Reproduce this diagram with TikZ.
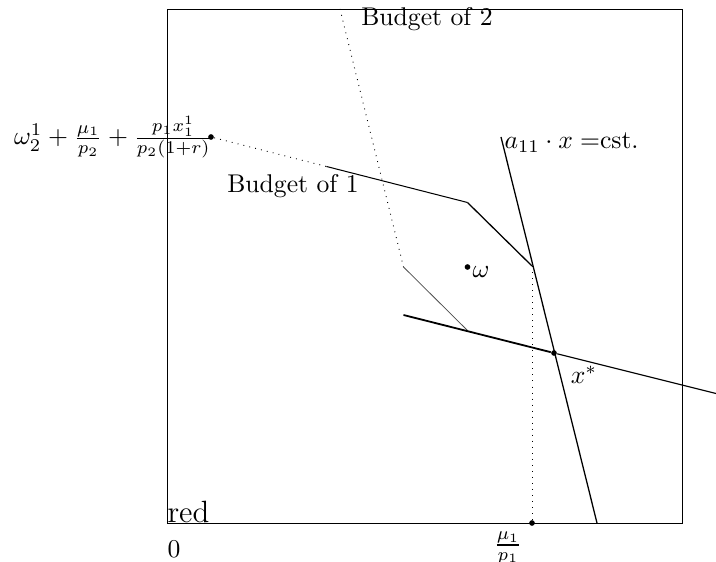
\documentclass[tikz,border=0pt]{standalone}
\usetikzlibrary{calc}
\begin{document}
\begin{tikzpicture}[x=0.39pt,y=-0.39pt,
  lbl/.style={inner sep=0pt},
  pt/.style={circle,fill=black,inner sep=0pt,minimum size=2.2pt},
  thin line/.style={line width=0.3pt},
  dotline/.style={dotted,line width=0.35pt}]
\useasboundingbox (0,0) rectangle (716,562);
% frame
\coordinate (bnw) at (167,9);
\coordinate (bse) at (682,523);
\draw[line width=0.3pt] (bnw) rectangle (bse);
% key points
\coordinate (b1s) at (211,137);
\coordinate (b1k) at (467.5,202.5);
\coordinate (k) at (532,266);
\coordinate (b2t) at (340,9);
\coordinate (b2k) at (403.5,267);
\coordinate (b2m) at (467.5,330.5);
\coordinate (tl) at (403.5,315);
\coordinate (tr) at (716,393.5);
\coordinate (at) at (501,137);
\coordinate (ab) at (597,523);
\coordinate (xa) at (532,523);
% dots
\node[pt] (P1) at (b1s) {};
\node[pt] (W) at (467.5,267) {};
\node[pt] (X) at (554,353) {};
\node[pt] (M) at (xa) {};
% budget of 1
\draw[dotline] (P1) -- ($(b1s)!0.45!(b1k)$) coordinate (b1m);
\draw[line width=0.4pt] (b1m) -- (b1k);
\draw[line width=0.5pt] (b1k) -- (k);
% budget of 2
\draw[dotline] (b2t) -- (b2k);
\draw[thin line, black!70] (b2k) -- (b2m);
% thick budget line
\draw[line width=0.7pt] (tl) -- (X);
\draw[line width=0.45pt] (X) -- (tr);
% a11 line
\draw[line width=0.5pt] (at) -- (ab);
% dotted vertical
\draw[dotline] (k) -- (M);
% labels
\node[lbl,anchor=east] (F) at (213,137) {$\omega_2^1+\frac{\mu_1}{p_2}+\frac{p_1x_1^1}{p_2(1+r)}$};
\node[lbl] (B2) at (427,19) {Budget of 2};
\node[lbl] (B1) at (293,186) {Budget of 1};
\node[lbl,anchor=west] (A) at (504,143) {$a_{11}\cdot x=$cst.};
\node[lbl,anchor=west] (WL) at (472,272) {$\omega$};
\node[lbl] (XL) at (584,375) {$x^*$};
\node[lbl,anchor=base west,font=\large] (R) at (167,523) {red};
\node[lbl] (Z) at (174,549) {0};
\node[lbl] (ML) at (508,548) {$\frac{\mu_1}{p_1}$};
\end{tikzpicture}
\end{document}
